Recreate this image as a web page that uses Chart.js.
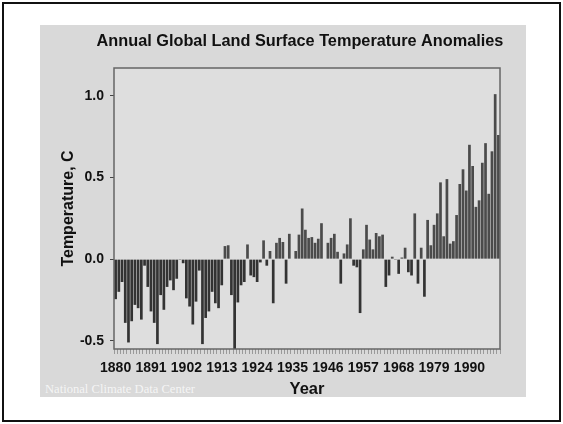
<!DOCTYPE html>
<html>
<head>
<meta charset="utf-8">
<script src="https://cdn.jsdelivr.net/npm/chart.js@4.4.0/dist/chart.umd.min.js"></script>
<style>
  html, body { margin: 0; padding: 0; background: #ffffff; }
  body { width: 563px; height: 424px; position: relative; overflow: hidden; }
  #frame { position: absolute; left: 2px; top: 2px; width: 555px; height: 416px; border: 2px solid #111; }
  #panel { position: absolute; left: 40px; top: 25px; width: 486px; height: 372px; background: #d9d9d9; overflow: hidden; }
  #wrap { position: absolute; left: 40px; top: 25px; width: 520px; height: 374px; }
  #credit { position: absolute; left: 5px; top: 357px; font: 12.6px "Liberation Serif", "DejaVu Serif", serif; color: rgba(255,255,255,0.75); white-space: nowrap; }
</style>
</head>
<body>
<div id="frame"></div>
<div id="panel"><div id="credit">National Climate Data Center</div></div>
<div id="wrap"><canvas id="c" width="520" height="374"></canvas></div>
<script>
// Annual global land surface temperature anomalies (°C), 1880–1999
const firstYear = 1880;
const anomalies = [
  -0.245, -0.20, -0.14, -0.39, -0.51, -0.38, -0.28, -0.30, -0.37, -0.04,   // 1880s
  -0.17, -0.32, -0.39, -0.52, -0.22, -0.31, -0.17, -0.13, -0.19, -0.12,    // 1890s
  -0.005, -0.025, -0.24, -0.29, -0.40, -0.26, -0.07, -0.52, -0.36, -0.32,  // 1900s
  -0.20, -0.27, -0.30, -0.16, 0.08, 0.085, -0.22, -0.55, -0.265, -0.16,    // 1910s
  -0.14, 0.09, -0.10, -0.11, -0.14, -0.02, 0.115, -0.04, 0.05, -0.27,      // 1920s
  0.10, 0.13, 0.105, -0.15, 0.155, 0.0, 0.05, 0.15, 0.31, 0.18,            // 1930s
  0.13, 0.135, 0.10, 0.125, 0.22, 0.0, 0.10, 0.13, 0.155, 0.045,          // 1940s
  -0.15, 0.035, 0.09, 0.25, -0.04, -0.05, -0.33, 0.06, 0.21, 0.12,        // 1950s
  0.06, 0.16, 0.14, 0.15, -0.17, -0.10, 0.015, -0.005, -0.09, 0.01,       // 1960s
  0.07, -0.08, -0.10, 0.28, -0.15, 0.07, -0.23, 0.24, 0.085, 0.21,        // 1970s
  0.28, 0.47, 0.14, 0.49, 0.095, 0.11, 0.27, 0.46, 0.55, 0.42,            // 1980s
  0.70, 0.57, 0.32, 0.36, 0.59, 0.71, 0.40, 0.66, 1.01, 0.76              // 1990s
];
const years = anomalies.map((_, i) => String(firstYear + i));
const labelEvery = 11;            // year labels every 11 years
const yTicks = [-0.5, 0.0, 0.5, 1.0];

const titleText = 'Annual Global Land Surface Temperature Anomalies';
const xTitle = 'Year';
const yTitle = 'Temperature, C';

const fontFamily = '"Liberation Sans", Arial, sans-serif';
const boldFont = (size) => ({ family: fontFamily, size, weight: 'bold' });

// plot-area background, frame and the heading above it
const framePlugin = {
  id: 'plotFrame',
  beforeDatasetsDraw(chart) {
    const { ctx, chartArea: a } = chart;
    ctx.save();
    ctx.fillStyle = '#dedede';
    ctx.fillRect(a.left, a.top, a.right - a.left, a.bottom - a.top);
    ctx.restore();
  },
  afterDraw(chart) {
    const { ctx, chartArea: a } = chart;
    ctx.save();
    ctx.strokeStyle = '#666';
    ctx.lineWidth = 1.5;
    ctx.strokeRect(a.left, a.top, a.right - a.left, a.bottom - a.top);
    ctx.fillStyle = '#111';
    ctx.font = 'bold 16.3px ' + fontFamily;
    ctx.textAlign = 'center';
    ctx.textBaseline = 'middle';
    ctx.fillText(titleText, 260, 16.5);
    ctx.restore();
  }
};

new Chart(document.getElementById('c'), {
  type: 'bar',
  data: {
    labels: years,
    datasets: [{
      data: anomalies,
      backgroundColor: anomalies.map(v => v < 0 ? '#333333' : '#4b4b4b'),
      borderWidth: 0,
      barPercentage: 0.84,
      categoryPercentage: 1.0
    }]
  },
  plugins: [framePlugin],
  options: {
    responsive: false,
    animation: false,
    devicePixelRatio: 1,
    layout: { padding: { left: 18, right: 60, top: 43, bottom: 0 } },
    plugins: {
      legend: { display: false },
      tooltip: { enabled: false },
      title: { display: false }
    },
    scales: {
      x: {
        type: 'category',
        grid: { drawOnChartArea: false, drawTicks: true, tickLength: 5, color: '#9a9a9a', lineWidth: 1 },
        border: { display: false },
        ticks: {
          autoSkip: false,
          maxRotation: 0,
          minRotation: 0,
          padding: 6,
          color: '#111',
          font: boldFont(14),
          callback: (val, i) => (i % labelEvery === 0 ? years[i] : '')
        },
        title: { display: true, text: xTitle, color: '#111', font: boldFont(16.5), padding: { top: 0, bottom: 0 } },
        afterFit: (s) => { s.height = 50; }
      },
      y: {
        min: -0.55,
        max: 1.17,
        grid: { drawOnChartArea: false, drawTicks: true, tickLength: 4, color: '#444', lineWidth: 1 },
        border: { display: false },
        afterBuildTicks: (s) => { s.ticks = yTicks.map(v => ({ value: v })); },
        ticks: {
          padding: 6,
          color: '#111',
          font: boldFont(14),
          callback: (v) => Number(v).toFixed(1)
        },
        title: { display: true, text: yTitle, color: '#111', font: boldFont(16), padding: { top: 1, bottom: 0 } },
        afterFit: (s) => { s.width = 56; }
      }
    }
  }
});
</script>
</body>
</html>
